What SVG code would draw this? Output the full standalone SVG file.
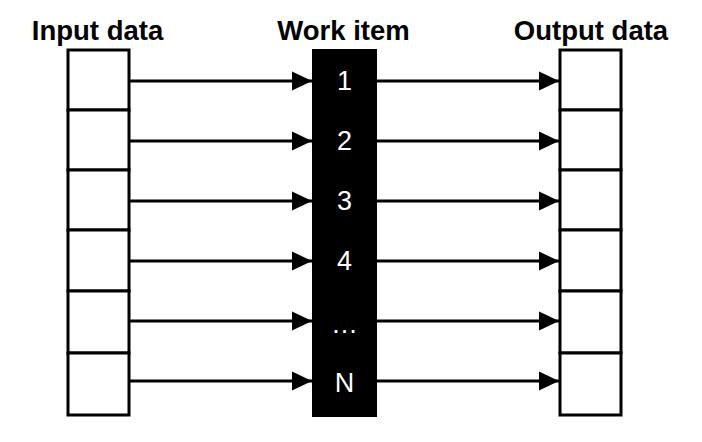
<svg xmlns="http://www.w3.org/2000/svg" width="702" height="442" viewBox="0 0 702 442">
<defs>
<style>
.cell{fill:#fff;stroke:#000;stroke-width:3}
.hdr{font-family:"Liberation Sans",Arial,sans-serif;font-weight:bold;font-size:27.5px;fill:#000;text-anchor:middle}
.num{font-family:"Liberation Sans",Arial,sans-serif;font-size:27px;fill:#fff;text-anchor:middle}
.conn{stroke:#000;stroke-width:3;fill:none;marker-end:url(#ah)}
</style>
<marker id="ah" markerUnits="userSpaceOnUse" markerWidth="20" markerHeight="20" refX="19" refY="9" orient="auto" viewBox="0 0 19 18">
<path d="M0,0 L19,9 L0,18 Z" fill="#000"/>
</marker>
</defs>
<rect width="702" height="442" fill="#fff"/>
<text class="hdr" x="97.5" y="40">Input data</text>
<text class="hdr" x="343.5" y="40">Work item</text>
<text class="hdr" x="591" y="40">Output data</text>
<g id="input">
<rect class="cell" x="68" y="50" width="61" height="60"/>
<rect class="cell" x="68" y="110" width="61" height="60"/>
<rect class="cell" x="68" y="170" width="61" height="60"/>
<rect class="cell" x="68" y="230" width="61" height="61"/>
<rect class="cell" x="68" y="291" width="61" height="62"/>
<rect class="cell" x="68" y="353" width="61" height="62"/>
</g>
<g id="output">
<rect class="cell" x="560" y="50" width="61" height="60"/>
<rect class="cell" x="560" y="110" width="61" height="60"/>
<rect class="cell" x="560" y="170" width="61" height="60"/>
<rect class="cell" x="560" y="230" width="61" height="61"/>
<rect class="cell" x="560" y="291" width="61" height="62"/>
<rect class="cell" x="560" y="353" width="61" height="62"/>
</g>
<g id="work">
<rect x="312" y="49" width="65" height="368" fill="#000"/>
<text class="num" x="344.5" y="90">1</text>
<text class="num" x="344.5" y="150">2</text>
<text class="num" x="344.5" y="210">3</text>
<text class="num" x="344.5" y="270">4</text>
<text class="num" x="344.5" y="333" letter-spacing="0">…</text>
<text class="num" x="344.5" y="392">N</text>
</g>
<g id="connectors">
<line class="conn" x1="130" y1="81" x2="312" y2="81"/>
<line class="conn" x1="130" y1="141" x2="312" y2="141"/>
<line class="conn" x1="130" y1="201" x2="312" y2="201"/>
<line class="conn" x1="130" y1="261" x2="312" y2="261"/>
<line class="conn" x1="130" y1="321" x2="312" y2="321"/>
<line class="conn" x1="130" y1="381" x2="312" y2="381"/>
<line class="conn" x1="377" y1="81" x2="559" y2="81"/>
<line class="conn" x1="377" y1="141" x2="559" y2="141"/>
<line class="conn" x1="377" y1="201" x2="559" y2="201"/>
<line class="conn" x1="377" y1="261" x2="559" y2="261"/>
<line class="conn" x1="377" y1="321" x2="559" y2="321"/>
<line class="conn" x1="377" y1="381" x2="559" y2="381"/>
</g>
</svg>
